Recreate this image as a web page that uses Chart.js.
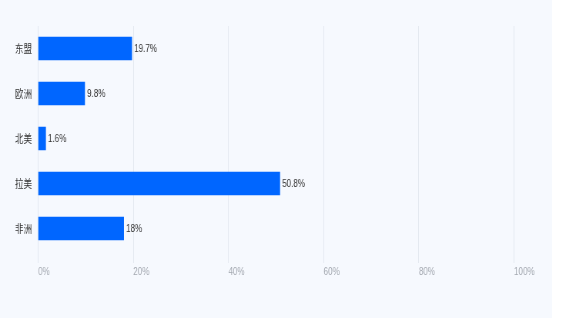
<!DOCTYPE html>
<html>
<head>
<meta charset="utf-8">
<script src="https://cdn.jsdelivr.net/npm/chart.js@4"></script>
<style>
  html, body { margin: 0; padding: 0; background: #ffffff; }
  #panel { position: absolute; left: 0; top: 0; width: 552px; height: 318px; background: #f6f9fe; overflow: hidden; }
  #stretch { position: absolute; left: 0; top: 0; width: 717px; height: 318px; transform: scaleX(0.77); transform-origin: 0 0; }
</style>
</head>
<body>
<div id="panel"><div id="stretch"><canvas id="c"></canvas></div></div>
<script>
// Share of total by region (%)
const regions = ['东盟', '欧洲', '北美', '拉美', '非洲'];
const shares = [19.7, 9.8, 1.6, 50.8, 18];
const axisTicks = [0, 20, 40, 60, 80, 100];

const valueLabels = {
  id: 'valueLabels',
  afterDatasetsDraw(chart) {
    const ctx = chart.ctx;
    const meta = chart.getDatasetMeta(0);
    ctx.save();
    ctx.font = '10.5px "Liberation Sans", Arial, sans-serif';
    ctx.fillStyle = '#333333';
    ctx.textAlign = 'left';
    ctx.textBaseline = 'middle';
    meta.data.forEach((bar, i) => {
      ctx.fillText(shares[i] + '%', bar.x + 3, bar.y + 1);
    });
    ctx.restore();
  }
};

new Chart(document.getElementById('c'), {
  type: 'bar',
  data: {
    labels: regions,
    datasets: [{
      data: shares,
      backgroundColor: '#0066ff',
      borderWidth: 0,
      barThickness: 23
    }]
  },
  options: {
    indexAxis: 'y',
    responsive: true,
    maintainAspectRatio: false,
    animation: false,
    layout: { padding: { top: 26, right: 49.5, left: 0, bottom: 0 } },
    plugins: { legend: { display: false }, tooltip: { enabled: false } },
    scales: {
      x: {
        min: 0,
        max: 100,
        afterBuildTicks(scale) { scale.ticks = axisTicks.map(v => ({ value: v })); },
        afterFit(scale) { scale.height = 67; },
        grid: { color: '#e4e9f0', lineWidth: 1, drawTicks: true, tickLength: 12 },
        border: { display: false },
        ticks: {
          padding: 3,
          align: 'start',
          color: '#a3a8b0',
          font: { family: '"Liberation Sans", Arial, sans-serif', size: 10.5 },
          callback: v => v + '%'
        }
      },
      y: {
        afterFit(scale) { scale.width = 49.4; },
        grid: { display: false, drawTicks: false },
        border: { display: false },
        ticks: {
          padding: 8,
          color: '#333333',
          font: { family: '"Noto Sans CJK SC", sans-serif', size: 11 }
        }
      }
    }
  },
  plugins: [valueLabels]
});
</script>
</body>
</html>
